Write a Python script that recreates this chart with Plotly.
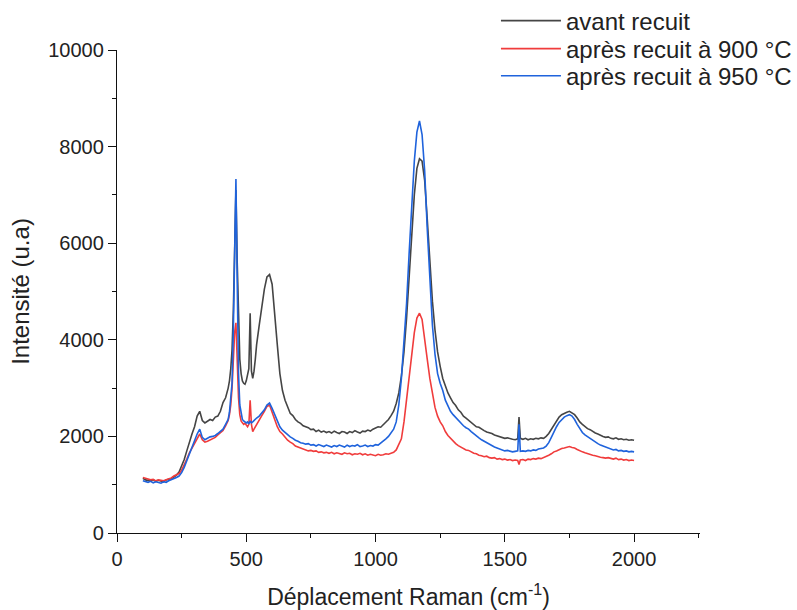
import plotly.graph_objects as go

# Raman shift (cm-1)
raman_shift = [
    100, 110, 120, 130, 140, 150, 160, 170, 180, 190,
    200, 210, 220, 230, 240, 250, 260, 270, 280, 290,
    300, 310, 320, 330, 340, 350, 360, 370, 380, 390,
    400, 410, 420, 430, 435, 440, 445, 450, 455, 460,
    465, 470, 475, 480, 485, 490, 495, 500, 505, 510,
    515, 520, 525, 530, 535, 540, 550, 560, 570, 580,
    590, 600, 610, 620, 630, 640, 650, 660, 670, 680,
    690, 700, 710, 720, 730, 740, 750, 760, 770, 780,
    790, 800, 810, 820, 830, 840, 850, 860, 870, 880,
    890, 900, 910, 920, 930, 940, 950, 960, 970, 980,
    990, 1000, 1010, 1020, 1030, 1040, 1050, 1060, 1070, 1080,
    1090, 1100, 1110, 1120, 1130, 1140, 1150, 1160, 1170, 1180,
    1190, 1200, 1210, 1220, 1230, 1240, 1250, 1260, 1270, 1280,
    1290, 1300, 1310, 1320, 1330, 1340, 1350, 1360, 1370, 1380,
    1390, 1400, 1410, 1420, 1430, 1440, 1450, 1460, 1470, 1480,
    1490, 1500, 1510, 1520, 1530, 1540, 1550, 1555, 1560, 1570,
    1580, 1590, 1600, 1610, 1620, 1630, 1640, 1650, 1660, 1670,
    1680, 1690, 1700, 1710, 1720, 1730, 1740, 1750, 1760, 1770,
    1780, 1790, 1800, 1810, 1820, 1830, 1840, 1850, 1860, 1870,
    1880, 1890, 1900, 1910, 1920, 1930, 1940, 1950, 1960, 1970,
    1980, 1990, 2000,
]

# avant recuit
avant_recuit = [
    1130, 1100, 1090, 1080, 1100, 1070, 1090, 1080, 1060, 1100,
    1110, 1130, 1160, 1200, 1260, 1380, 1520, 1700, 1900, 2050,
    2200, 2420, 2520, 2330, 2280, 2320, 2350, 2330, 2400, 2420,
    2520, 2700, 2800, 3000, 3150, 3400, 3800, 4600, 6000, 7100,
    5600, 4300, 3600, 3300, 3150, 3100, 3080, 3150, 3250, 3400,
    4550, 3350, 3200, 3350, 3600, 3900, 4300, 4700, 5050, 5300,
    5350, 5150, 4600, 3900, 3300, 2950, 2750, 2600, 2480, 2430,
    2350, 2300, 2270, 2220, 2200, 2180, 2140, 2150, 2100, 2130,
    2090, 2110, 2080, 2100, 2070, 2110, 2080, 2060, 2100, 2090,
    2060, 2100, 2080, 2120, 2090, 2070, 2110, 2100, 2130, 2110,
    2150, 2170, 2200, 2190, 2240, 2290, 2350, 2430, 2520, 2680,
    2900, 3250, 3750, 4450, 5300, 6200, 7000, 7550, 7750, 7700,
    7300, 6500, 5600, 4800, 4200, 3750, 3450, 3200, 3050, 2900,
    2800, 2700, 2640, 2550, 2500, 2420, 2380, 2330, 2290, 2250,
    2200, 2190, 2150, 2120, 2090, 2080, 2060, 2030, 2010, 2000,
    1980, 1960, 1970, 1950, 1940, 1930, 1950, 2400, 1960, 1940,
    1960, 1930, 1950, 1940, 1960, 1950, 1970, 1960, 2000, 2060,
    2150, 2250, 2330, 2400, 2450, 2480, 2500, 2520, 2490, 2450,
    2380, 2300, 2250, 2200, 2160, 2140, 2100, 2070, 2050, 2020,
    2000, 1980, 1990, 1960, 1950, 1970, 1940, 1950, 1930, 1940,
    1920, 1930, 1920,
]

# après recuit à 900 °C
recuit_900 = [
    1150, 1140, 1120, 1100, 1110, 1080, 1100, 1090, 1080, 1100,
    1120, 1140, 1180, 1200, 1230, 1300, 1400, 1530, 1660, 1760,
    1860, 1980, 2050, 1930, 1880, 1900, 1930, 1950, 1980, 2030,
    2080, 2120, 2220, 2330, 2450, 2650, 3000, 3600, 4150, 4350,
    3500, 2800, 2450, 2320, 2280, 2250, 2270, 2230, 2200, 2250,
    2750, 2250, 2100, 2150, 2200, 2260, 2350, 2430, 2520, 2620,
    2650, 2520, 2350, 2200, 2100, 2050, 1980, 1920, 1880, 1850,
    1800, 1780, 1750, 1730, 1720, 1700, 1710, 1690, 1700, 1670,
    1680, 1660, 1670, 1650, 1670, 1640, 1660, 1650, 1630, 1660,
    1640, 1650, 1620, 1640, 1630, 1650, 1620, 1640, 1610, 1630,
    1620, 1600, 1630, 1610, 1620, 1640, 1630, 1650, 1670, 1720,
    1820, 1950, 2300, 2750, 3250, 3750, 4150, 4450, 4550, 4420,
    4050, 3600, 3200, 2850, 2600, 2420, 2300, 2220, 2100, 2020,
    1960, 1900, 1850, 1810, 1780, 1750, 1720, 1710, 1680, 1650,
    1640, 1610, 1600, 1580, 1590, 1560, 1550, 1560, 1530, 1540,
    1520, 1530, 1510, 1520, 1500, 1510, 1500, 1420, 1510, 1520,
    1500, 1530, 1520, 1540, 1530, 1550, 1540, 1560, 1580, 1610,
    1640, 1680, 1700, 1730, 1750, 1760, 1780, 1790, 1770, 1760,
    1730, 1700, 1680, 1660, 1640, 1630, 1610, 1600, 1580, 1570,
    1560, 1550, 1560, 1540, 1530, 1550, 1520, 1530, 1510, 1520,
    1500, 1510, 1500,
]

# après recuit à 950 °C
recuit_950 = [
    1080, 1060, 1050, 1070, 1040, 1060, 1050, 1030, 1060, 1050,
    1080, 1100, 1120, 1150, 1180, 1250, 1360, 1500, 1650, 1780,
    1900, 2050, 2150, 1980, 1930, 1960, 1990, 2000, 2020, 2060,
    2100, 2150, 2250, 2350, 2500, 2750, 3100, 4200, 6200, 7330,
    5200, 3300, 2650, 2450, 2350, 2320, 2300, 2280, 2300, 2260,
    2320, 2280, 2300, 2330, 2350, 2380, 2420, 2480, 2550, 2650,
    2690, 2580, 2450, 2300, 2200, 2130, 2080, 2030, 1990, 1960,
    1920, 1900, 1870, 1860, 1840, 1850, 1820, 1830, 1800, 1830,
    1810, 1790, 1820, 1800, 1780, 1810, 1790, 1820, 1800, 1780,
    1820, 1790, 1810, 1800, 1830, 1790, 1800, 1820, 1790, 1810,
    1800, 1830, 1820, 1860, 1900, 1950, 2000, 2070, 2150, 2300,
    2650, 3200, 3900, 4750, 5800, 6850, 7700, 8300, 8530, 8250,
    7500, 6300, 5150, 4300, 3700, 3300, 3100, 2950, 2750, 2620,
    2520, 2450, 2390, 2330, 2270, 2220, 2180, 2150, 2100, 2050,
    2010, 1970, 1930, 1900, 1860, 1830, 1800, 1780, 1760, 1740,
    1730, 1700, 1710, 1690, 1680, 1690, 1700, 2250, 1690, 1700,
    1690, 1710, 1700, 1720, 1710, 1740, 1750, 1760, 1800, 1870,
    1980, 2100, 2200, 2290, 2350, 2400, 2430, 2450, 2420, 2350,
    2250, 2150, 2080, 2030, 1990, 1960, 1920, 1880, 1850, 1820,
    1800, 1780, 1760, 1740, 1720, 1730, 1700, 1710, 1690, 1700,
    1680, 1690, 1680,
]

series_names = ["avant recuit", "après recuit à 900 °C", "après recuit à 950 °C"]
series_values = [avant_recuit, recuit_900, recuit_950]
series_colors = ["#454545", "#f03c3c", "#1f63dc"]
legend_ids = ["legend", "legend2", "legend3"]
legend_rows_y = [1.060, 1.002, 0.946]

x_tick_vals = [0, 500, 1000, 1500, 2000]
x_tick_text = ["0", "500", "1000", "1500", "2000"]
y_tick_vals = [0, 2000, 4000, 6000, 8000, 10000]
y_tick_text = ["0", "2000", "4000", "6000", "8000", "10000"]

FONT = "Liberation Sans, Arial, sans-serif"

fig = go.Figure()
for name, vals, col, lg in zip(series_names, series_values, series_colors, legend_ids):
    fig.add_trace(go.Scatter(
        x=raman_shift, y=vals, mode="lines", name=name,
        line=dict(color=col, width=1.6), legend=lg,
    ))

axis_common = dict(
    showline=True, linecolor="#111", linewidth=1.3,
    ticks="outside", ticklen=8, tickwidth=1.3, tickcolor="#111",
    showgrid=False, zeroline=False,
    tickfont=dict(family=FONT, size=20, color="#222"),
)

legend_style = dict(
    x=0.65, xanchor="left", yanchor="middle",
    font=dict(family=FONT, size=24, color="#222"),
    bgcolor="rgba(0,0,0,0)", itemwidth=60,
)

fig.update_layout(
    width=797, height=610,
    margin=dict(l=117, r=97, t=50, b=77, autoexpand=False),
    paper_bgcolor="white", plot_bgcolor="white",
    font=dict(family=FONT, color="#222"),
    showlegend=True,
    legend=dict(y=legend_rows_y[0], **legend_style),
    legend2=dict(y=legend_rows_y[1], **legend_style),
    legend3=dict(y=legend_rows_y[2], **legend_style),
    xaxis=dict(
        range=[0, 2255], tickvals=x_tick_vals, ticktext=x_tick_text,
        minor=dict(dtick=250, tick0=0, ticks="outside", ticklen=4,
                   tickwidth=1.3, tickcolor="#111"),
        title=dict(text="Déplacement Raman (cm<sup>-1</sup>)",
                   font=dict(family=FONT, size=23, color="#222"), standoff=26),
        **axis_common,
    ),
    yaxis=dict(
        range=[0, 10000], tickvals=y_tick_vals, ticktext=y_tick_text,
        minor=dict(dtick=1000, tick0=0, ticks="outside", ticklen=4,
                   tickwidth=1.3, tickcolor="#111"),
        title=dict(text="Intensité (u.a)",
                   font=dict(family=FONT, size=24, color="#222"), standoff=11),
        **axis_common,
    ),
)

fig.write_html("out.html")
